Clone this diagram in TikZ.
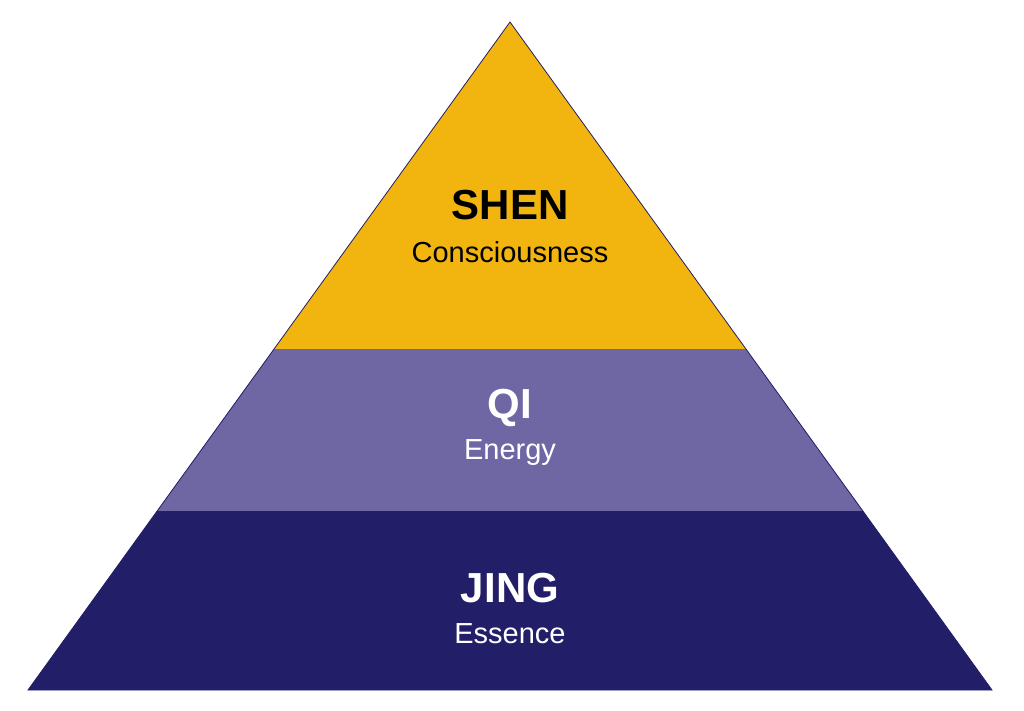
\documentclass[tikz,border=0pt]{standalone}
\usepackage{fontspec}
\setmainfont{Liberation Sans}
\definecolor{shenc}{HTML}{F2B50F}
\definecolor{qic}{HTML}{6E67A3}
\definecolor{jingc}{HTML}{221E68}
\begin{document}
\begin{tikzpicture}[x=1pt,y=-1pt,
  title/.style={font=\fontsize{42}{46}\selectfont\bfseries},
  sub/.style={font=\fontsize{29}{32}\selectfont}]
\useasboundingbox (0,0) rectangle (1024,710);
\fill[shenc] (510,22) -- (746,349) -- (274,349) -- cycle;
\fill[qic] (274,349) -- (746,349) -- (863,511) -- (157,511) -- cycle;
\fill[jingc] (157,511) -- (863,511) -- (992,690) -- (28,690) -- cycle;
\draw[jingc, line width=0.8pt] (510,22) -- (992,690) -- (28,690) -- cycle;
\node[title] (shen) at (510,205) {SHEN};
\node[sub] (shens) at (510,252) {Consciousness};
\node[title,white] (qi) at (510,408) {QI};
\node[sub,white] (qis) at (510,453) {Energy};
\node[title,white] (jing) at (510,588) {JING};
\node[sub,white] (jings) at (510,634) {Essence};
\end{tikzpicture}
\end{document}
